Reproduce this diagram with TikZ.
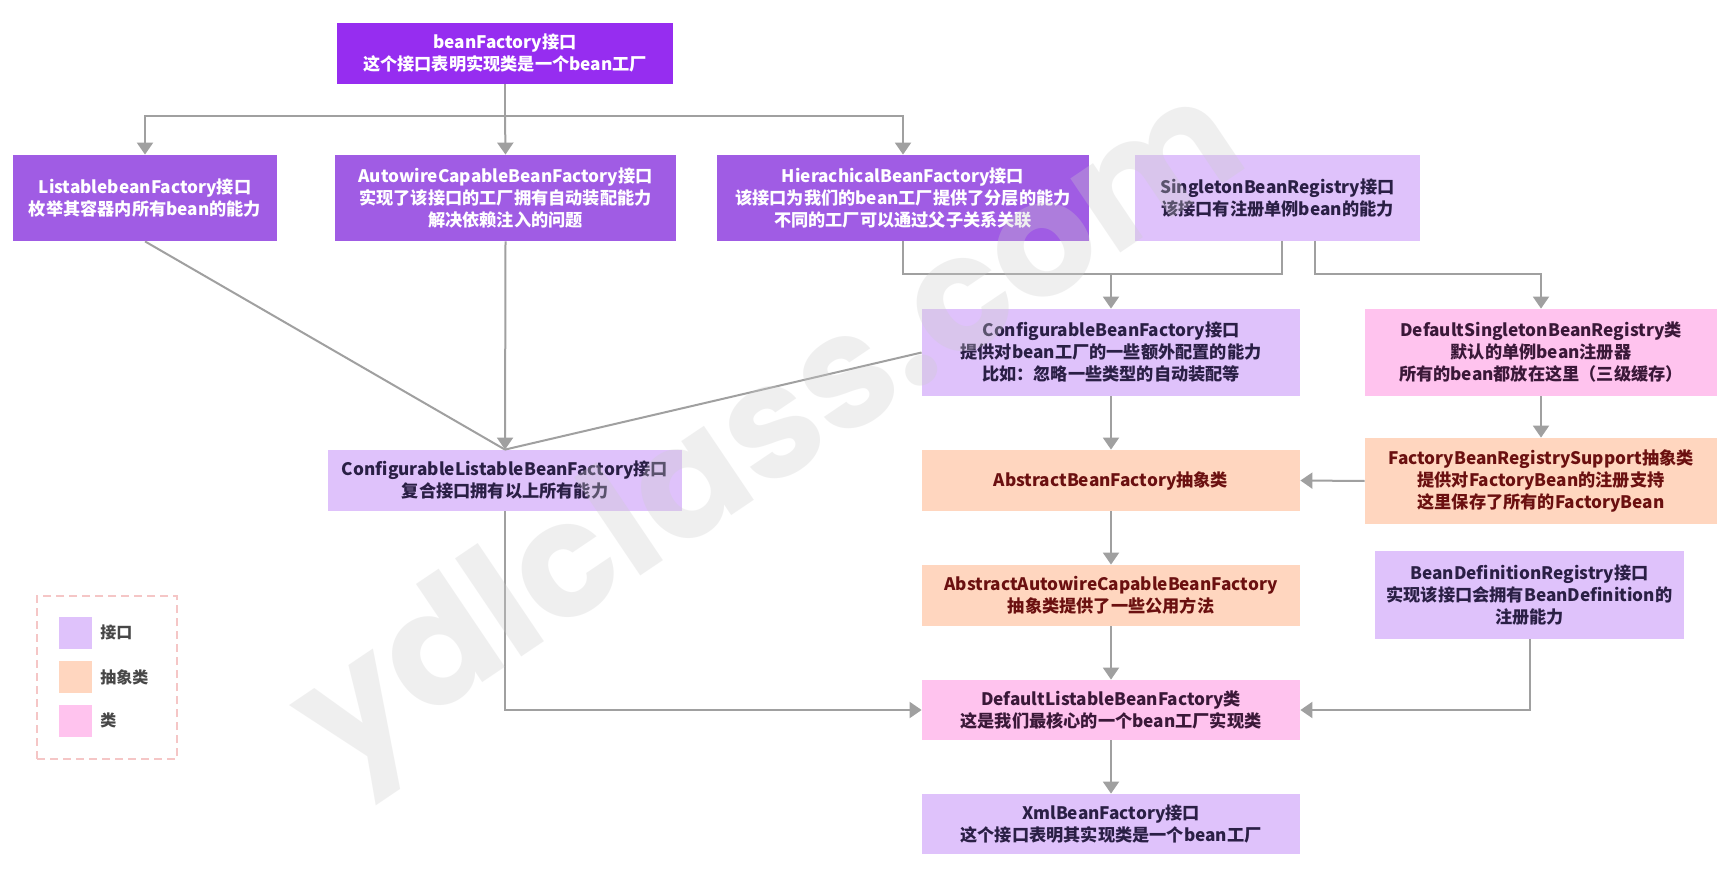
\documentclass[tikz,border=0pt]{standalone}
\usepackage{fontspec}
\setmainfont{Noto Sans CJK SC}
\newfontfamily\wmfont{Poppins}
\usetikzlibrary{arrows.meta}
\definecolor{cdeep}{HTML}{962DF0}
\definecolor{cmid}{HTML}{A05CE4}
\definecolor{ciface}{HTML}{DFC2FB}
\definecolor{cabs}{HTML}{FFD6BF}
\definecolor{ccls}{HTML}{FFC3EE}
\definecolor{tiface}{HTML}{2A1F45}
\definecolor{tabs}{HTML}{6B1010}
\definecolor{tcls}{HTML}{3A1838}
\definecolor{cline}{HTML}{A0A0A0}
\definecolor{clegend}{HTML}{F5C6C6}
\tikzset{
  box/.style={rectangle, inner sep=0pt, align=center, font=\fontsize{8.6pt}{11pt}\selectfont\bfseries},
  deepbox/.style={box, fill=cdeep, text=white},
  midbox/.style={box, fill=cmid, text=white},
  ifacebox/.style={box, fill=ciface, text=tiface},
  absbox/.style={box, fill=cabs, text=tabs},
  clsbox/.style={box, fill=ccls, text=tcls},
  conn/.style={draw=cline, line width=1pt},
  arr/.style={conn, -{Triangle[width=8pt,length=6pt]}, color=cline},
  swatch/.style={rectangle, inner sep=0pt, minimum width=16.5pt, minimum height=16pt},
  legtext/.style={anchor=west, inner sep=0pt, text=black!72, font=\fontsize{8pt}{10pt}\selectfont\bfseries},
}
\begin{document}
\begin{tikzpicture}[x=0.5pt,y=-0.5pt]
\useasboundingbox (0,0) rectangle (1733,871);
\fill[white] (0,0) rectangle (1733,871);

% nodes
\node[deepbox, minimum width=168pt, minimum height=30.5pt] (bf) at (505,53.5) {beanFactory接口\\这个接口表明实现类是一个bean工厂};
\node[midbox, minimum width=132pt, minimum height=43pt] (list) at (145,198) {ListablebeanFactory接口\\枚举其容器内所有bean的能力};
\node[midbox, minimum width=170.5pt, minimum height=43pt] (auto) at (505.5,198) {AutowireCapableBeanFactory接口\\实现了该接口的工厂拥有自动装配能力\\解决依赖注入的问题};
\node[midbox, minimum width=186pt, minimum height=43pt] (hier) at (903,198) {HierachicalBeanFactory接口\\该接口为我们的bean工厂提供了分层的能力\\不同的工厂可以通过父子关系关联};
\node[ifacebox, minimum width=142.5pt, minimum height=43pt] (sing) at (1277.5,198) {SingletonBeanRegistry接口\\该接口有注册单例bean的能力};
\node[ifacebox, minimum width=189pt, minimum height=43.5pt] (conf) at (1111,352.5) {ConfigurableBeanFactory接口\\提供对bean工厂的一些额外配置的能力\\比如：忽略一些类型的自动装配等};
\node[clsbox, minimum width=176pt, minimum height=43.5pt] (dss) at (1541,352.5) {DefaultSingletonBeanRegistry类\\默认的单例bean注册器\\所有的bean都放在这里（三级缓存）};
\node[ifacebox, minimum width=177pt, minimum height=30.5pt] (clbf) at (505,480.5) {ConfigurableListableBeanFactory接口\\复合接口拥有以上所有能力};
\node[absbox, minimum width=189pt, minimum height=30.5pt] (abf) at (1111,480.5) {AbstractBeanFactory抽象类};
\node[absbox, minimum width=176pt, minimum height=43pt] (fbrs) at (1541,481) {FactoryBeanRegistrySupport抽象类\\提供对FactoryBean的注册支持\\这里保存了所有的FactoryBean};
\node[absbox, minimum width=189pt, minimum height=30.5pt] (aacbf) at (1111,595.5) {AbstractAutowireCapableBeanFactory\\抽象类提供了一些公用方法};
\node[ifacebox, minimum width=154.5pt, minimum height=44pt] (bdr) at (1529.5,595) {BeanDefinitionRegistry接口\\实现该接口会拥有BeanDefinition的\\注册能力};
\node[clsbox, minimum width=189pt, minimum height=30pt] (dlbf) at (1111,710) {DefaultListableBeanFactory类\\这是我们最核心的一个bean工厂实现类};
\node[ifacebox, minimum width=189pt, minimum height=30pt] (xml) at (1111,824) {XmlBeanFactory接口\\这个接口表明其实现类是一个bean工厂};

% connectors
\coordinate (j1) at (505,116);
\draw[conn] (bf.south) -- (j1);
\draw[arr] (j1) -| (list.north);
\draw[arr] (j1) -- (auto.north);
\draw[arr] (j1) -| (hier.north);

\coordinate (j2) at (1111,274);
\coordinate (s1) at (1282,241);
\coordinate (s2) at (1315,241);
\coordinate (j3) at (1315,274);
\draw[conn] (hier.south) |- (j2);
\draw[conn] (s1) |- (j2);
\draw[arr] (j2) -- (conf.north);
\draw[arr] (s2) -- (j3) -| (dss.north);

\draw[conn] (list.south) -- (clbf.north);
\draw[conn] (conf.west) -- (clbf.north);
\draw[arr] (auto.south) -- (clbf.north);

\draw[arr] (clbf.south) |- (dlbf.west);
\draw[arr] (conf.south) -- (abf.north);
\draw[arr] (dss.south) -- (fbrs.north);
\draw[arr] (fbrs.west) -- (abf.east);
\draw[arr] (abf.south) -- (aacbf.north);
\draw[arr] (aacbf.south) -- (dlbf.north);
\draw[arr] (bdr.south) |- (dlbf.east);
\draw[arr] (dlbf.south) -- (xml.north);

% legend
\node[draw=clegend, dashed, dash pattern=on 4pt off 2.5pt, line width=0.75pt, minimum width=70pt, minimum height=81.5pt, inner sep=0pt] (legend) at (107,677.5) {};
\node[swatch, fill=ciface] (sw1) at (75.5,632.5) {};
\node[swatch, fill=cabs] (sw2) at (75.5,677) {};
\node[swatch, fill=ccls] (sw3) at (75.5,720.5) {};
\node[legtext] (lt1) at (100,632.5) {接口};
\node[legtext] (lt2) at (100,677) {抽象类};
\node[legtext] (lt3) at (100,720.5) {类};

% watermark
\node[rotate=34, text=black!20, opacity=0.3, font=\wmfont\fontsize{80pt}{84pt}\selectfont\bfseries] (wm) at (775,440) {ydlclass.com};
\end{tikzpicture}
\end{document}
